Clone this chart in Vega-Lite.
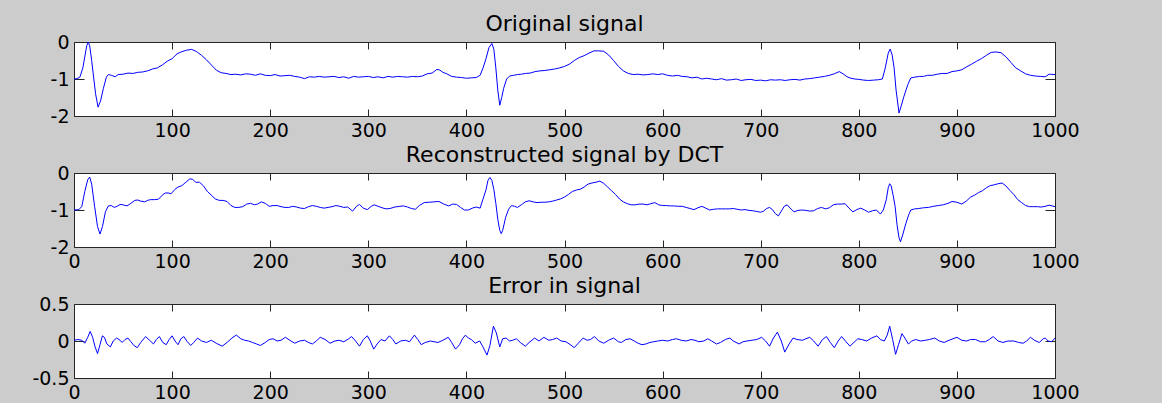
{
  "$schema": "https://vega.github.io/schema/vega-lite/v6.json",
  "background": "#cccccc",
  "padding": {"left": 31, "top": 12, "right": 82, "bottom": 6},
  "bounds": "flush",
  "spacing": 57,
  "config": {
    "view": {"fill": "white", "stroke": "#262626", "strokeWidth": 1},
    "axis": {"domain": false, "grid": false, "labelFont": "DejaVu Sans", "labelFontSize": 19, "labelColor": "#000000", "tickColor": "#262626", "labelFlush": false, "labelOverlap": false, "labelBound": false},
    "title": {"font": "DejaVu Sans", "fontSize": 22, "fontWeight": "normal", "color": "#000000", "anchor": "middle", "baseline": "alphabetic", "offset": -3}
  },
  "datasets": {
    "orig": [
      {"x":0,"y":-1.0},{"x":3,"y":-0.99},{"x":6,"y":-0.95},{"x":9,"y":-0.7},{"x":11,"y":-0.4},{"x":13,"y":-0.1},{"x":14.5,"y":0.0},{"x":16,"y":-0.1},{"x":18,"y":-0.5},{"x":20,"y":-0.95},{"x":22,"y":-1.4},{"x":24.5,"y":-1.76},{"x":27,"y":-1.6},{"x":30,"y":-1.25},{"x":33,"y":-0.95},{"x":35,"y":-0.88},{"x":38,"y":-0.9},{"x":42,"y":-0.94},{"x":45,"y":-0.88},{"x":50,"y":-0.87},{"x":55,"y":-0.84},{"x":60,"y":-0.85},{"x":65,"y":-0.82},{"x":70,"y":-0.81},{"x":75,"y":-0.78},{"x":80,"y":-0.73},{"x":85,"y":-0.7},{"x":90,"y":-0.62},{"x":95,"y":-0.52},{"x":100,"y":-0.45},{"x":105,"y":-0.32},{"x":110,"y":-0.26},{"x":115,"y":-0.22},{"x":120,"y":-0.2},{"x":125,"y":-0.26},{"x":130,"y":-0.36},{"x":135,"y":-0.48},{"x":140,"y":-0.62},{"x":145,"y":-0.76},{"x":150,"y":-0.83},{"x":155,"y":-0.85},{"x":160,"y":-0.88},{"x":165,"y":-0.87},{"x":170,"y":-0.89},{"x":175,"y":-0.86},{"x":180,"y":-0.87},{"x":185,"y":-0.9},{"x":190,"y":-0.86},{"x":195,"y":-0.9},{"x":200,"y":-0.91},{"x":205,"y":-0.88},{"x":210,"y":-0.92},{"x":215,"y":-0.91},{"x":220,"y":-0.9},{"x":225,"y":-0.93},{"x":230,"y":-0.95},{"x":235,"y":-0.99},{"x":240,"y":-0.94},{"x":245,"y":-0.95},{"x":250,"y":-0.93},{"x":255,"y":-0.95},{"x":260,"y":-0.94},{"x":265,"y":-0.93},{"x":270,"y":-0.96},{"x":275,"y":-0.94},{"x":280,"y":-0.98},{"x":285,"y":-0.93},{"x":290,"y":-0.95},{"x":295,"y":-0.94},{"x":300,"y":-0.93},{"x":305,"y":-0.96},{"x":310,"y":-0.94},{"x":315,"y":-0.97},{"x":320,"y":-0.93},{"x":325,"y":-0.95},{"x":330,"y":-0.93},{"x":335,"y":-0.94},{"x":340,"y":-0.95},{"x":345,"y":-0.93},{"x":350,"y":-0.94},{"x":355,"y":-0.92},{"x":360,"y":-0.86},{"x":365,"y":-0.84},{"x":370,"y":-0.74},{"x":373,"y":-0.76},{"x":376,"y":-0.82},{"x":380,"y":-0.86},{"x":385,"y":-0.93},{"x":390,"y":-0.95},{"x":395,"y":-0.96},{"x":400,"y":-0.98},{"x":405,"y":-0.97},{"x":410,"y":-0.96},{"x":414,"y":-0.9},{"x":417,"y":-0.7},{"x":420,"y":-0.45},{"x":423,"y":-0.15},{"x":426,"y":-0.04},{"x":428,"y":-0.2},{"x":430,"y":-0.7},{"x":432,"y":-1.3},{"x":434,"y":-1.71},{"x":436,"y":-1.5},{"x":438,"y":-1.25},{"x":441,"y":-1.0},{"x":444,"y":-0.92},{"x":448,"y":-0.9},{"x":452,"y":-0.88},{"x":456,"y":-0.87},{"x":460,"y":-0.85},{"x":465,"y":-0.84},{"x":470,"y":-0.8},{"x":475,"y":-0.78},{"x":480,"y":-0.77},{"x":485,"y":-0.75},{"x":490,"y":-0.73},{"x":495,"y":-0.7},{"x":500,"y":-0.66},{"x":505,"y":-0.6},{"x":510,"y":-0.5},{"x":515,"y":-0.42},{"x":520,"y":-0.37},{"x":525,"y":-0.3},{"x":530,"y":-0.24},{"x":535,"y":-0.24},{"x":540,"y":-0.25},{"x":545,"y":-0.35},{"x":550,"y":-0.5},{"x":555,"y":-0.66},{"x":560,"y":-0.78},{"x":565,"y":-0.85},{"x":570,"y":-0.88},{"x":575,"y":-0.87},{"x":580,"y":-0.89},{"x":585,"y":-0.88},{"x":590,"y":-0.86},{"x":595,"y":-0.88},{"x":600,"y":-0.86},{"x":605,"y":-0.9},{"x":610,"y":-0.92},{"x":615,"y":-0.9},{"x":620,"y":-0.93},{"x":625,"y":-0.94},{"x":630,"y":-0.97},{"x":635,"y":-0.95},{"x":640,"y":-1.0},{"x":645,"y":-0.98},{"x":650,"y":-1.0},{"x":655,"y":-1.02},{"x":660,"y":-0.99},{"x":665,"y":-1.03},{"x":670,"y":-1.02},{"x":675,"y":-1.0},{"x":680,"y":-1.04},{"x":685,"y":-1.02},{"x":690,"y":-1.01},{"x":695,"y":-1.04},{"x":700,"y":-1.03},{"x":705,"y":-1.05},{"x":710,"y":-1.02},{"x":715,"y":-1.03},{"x":720,"y":-1.02},{"x":725,"y":-1.04},{"x":730,"y":-1.02},{"x":735,"y":-1.01},{"x":740,"y":-1.03},{"x":745,"y":-1.0},{"x":750,"y":-0.99},{"x":755,"y":-0.97},{"x":760,"y":-0.95},{"x":765,"y":-0.93},{"x":770,"y":-0.9},{"x":775,"y":-0.86},{"x":780,"y":-0.8},{"x":784,"y":-0.86},{"x":788,"y":-0.94},{"x":792,"y":-0.98},{"x":796,"y":-1.0},{"x":800,"y":-1.01},{"x":805,"y":-1.03},{"x":810,"y":-1.04},{"x":815,"y":-1.03},{"x":820,"y":-1.02},{"x":824,"y":-1.0},{"x":827,"y":-0.7},{"x":830,"y":-0.3},{"x":832,"y":-0.19},{"x":834,"y":-0.35},{"x":836,"y":-0.7},{"x":838,"y":-1.3},{"x":841,"y":-1.92},{"x":843,"y":-1.75},{"x":846,"y":-1.47},{"x":850,"y":-1.15},{"x":853,"y":-0.97},{"x":857,"y":-0.95},{"x":862,"y":-0.93},{"x":866,"y":-0.93},{"x":870,"y":-0.9},{"x":875,"y":-0.9},{"x":880,"y":-0.87},{"x":885,"y":-0.85},{"x":890,"y":-0.85},{"x":895,"y":-0.8},{"x":900,"y":-0.78},{"x":905,"y":-0.75},{"x":910,"y":-0.67},{"x":915,"y":-0.6},{"x":920,"y":-0.52},{"x":925,"y":-0.45},{"x":930,"y":-0.36},{"x":935,"y":-0.28},{"x":940,"y":-0.27},{"x":945,"y":-0.29},{"x":950,"y":-0.4},{"x":955,"y":-0.55},{"x":960,"y":-0.7},{"x":965,"y":-0.78},{"x":970,"y":-0.86},{"x":975,"y":-0.9},{"x":980,"y":-0.92},{"x":985,"y":-0.93},{"x":990,"y":-0.94},{"x":994,"y":-0.87},{"x":1000,"y":-0.88}
    ],
    "rec": [
      {"x":0,"y":-1.0},{"x":5,"y":-0.99},{"x":8,"y":-0.9},{"x":11,"y":-0.5},{"x":14,"y":-0.18},{"x":16,"y":-0.11},{"x":18,"y":-0.3},{"x":21,"y":-0.9},{"x":24,"y":-1.45},{"x":26.5,"y":-1.65},{"x":29,"y":-1.45},{"x":32,"y":-1.05},{"x":35,"y":-0.89},{"x":38,"y":-0.88},{"x":41,"y":-0.93},{"x":44,"y":-0.9},{"x":47,"y":-0.85},{"x":50,"y":-0.86},{"x":54,"y":-0.89},{"x":58,"y":-0.82},{"x":62,"y":-0.74},{"x":65,"y":-0.73},{"x":68,"y":-0.76},{"x":72,"y":-0.78},{"x":75,"y":-0.74},{"x":78,"y":-0.72},{"x":82,"y":-0.72},{"x":86,"y":-0.71},{"x":90,"y":-0.6},{"x":93,"y":-0.54},{"x":96,"y":-0.54},{"x":99,"y":-0.56},{"x":103,"y":-0.44},{"x":106,"y":-0.38},{"x":110,"y":-0.34},{"x":114,"y":-0.25},{"x":118,"y":-0.16},{"x":121,"y":-0.17},{"x":124,"y":-0.25},{"x":128,"y":-0.25},{"x":132,"y":-0.35},{"x":136,"y":-0.5},{"x":140,"y":-0.6},{"x":144,"y":-0.7},{"x":148,"y":-0.74},{"x":152,"y":-0.74},{"x":156,"y":-0.77},{"x":160,"y":-0.88},{"x":164,"y":-0.93},{"x":168,"y":-0.93},{"x":172,"y":-0.91},{"x":176,"y":-0.84},{"x":180,"y":-0.82},{"x":184,"y":-0.86},{"x":187,"y":-0.84},{"x":191,"y":-0.78},{"x":195,"y":-0.82},{"x":199,"y":-0.9},{"x":203,"y":-0.88},{"x":207,"y":-0.88},{"x":211,"y":-0.91},{"x":215,"y":-0.93},{"x":219,"y":-0.93},{"x":223,"y":-0.9},{"x":227,"y":-0.92},{"x":231,"y":-0.95},{"x":235,"y":-0.96},{"x":239,"y":-0.91},{"x":243,"y":-0.88},{"x":247,"y":-0.9},{"x":251,"y":-0.93},{"x":255,"y":-0.95},{"x":259,"y":-0.93},{"x":263,"y":-0.91},{"x":267,"y":-0.88},{"x":271,"y":-0.9},{"x":275,"y":-0.93},{"x":279,"y":-0.92},{"x":284,"y":-1.03},{"x":288,"y":-0.9},{"x":291,"y":-0.85},{"x":295,"y":-0.95},{"x":299,"y":-0.99},{"x":303,"y":-0.9},{"x":306,"y":-0.86},{"x":310,"y":-0.9},{"x":314,"y":-0.94},{"x":318,"y":-0.97},{"x":322,"y":-0.96},{"x":327,"y":-0.92},{"x":332,"y":-0.9},{"x":336,"y":-0.89},{"x":340,"y":-0.92},{"x":344,"y":-0.96},{"x":348,"y":-0.98},{"x":352,"y":-0.88},{"x":357,"y":-0.8},{"x":362,"y":-0.79},{"x":367,"y":-0.78},{"x":372,"y":-0.77},{"x":377,"y":-0.84},{"x":382,"y":-0.89},{"x":386,"y":-0.84},{"x":390,"y":-0.85},{"x":394,"y":-0.93},{"x":398,"y":-1.0},{"x":402,"y":-1.0},{"x":406,"y":-0.95},{"x":410,"y":-0.92},{"x":414,"y":-0.95},{"x":417,"y":-0.7},{"x":420,"y":-0.45},{"x":422,"y":-0.2},{"x":424,"y":-0.12},{"x":426,"y":-0.2},{"x":428,"y":-0.45},{"x":430,"y":-0.82},{"x":432,"y":-1.25},{"x":434,"y":-1.55},{"x":435.5,"y":-1.64},{"x":437,"y":-1.55},{"x":440,"y":-1.2},{"x":443,"y":-0.98},{"x":446,"y":-0.88},{"x":449,"y":-0.9},{"x":452,"y":-0.93},{"x":456,"y":-0.86},{"x":460,"y":-0.78},{"x":464,"y":-0.75},{"x":468,"y":-0.78},{"x":472,"y":-0.8},{"x":476,"y":-0.79},{"x":480,"y":-0.79},{"x":484,"y":-0.78},{"x":488,"y":-0.76},{"x":492,"y":-0.73},{"x":496,"y":-0.7},{"x":500,"y":-0.65},{"x":504,"y":-0.58},{"x":508,"y":-0.5},{"x":512,"y":-0.46},{"x":516,"y":-0.44},{"x":520,"y":-0.38},{"x":524,"y":-0.3},{"x":528,"y":-0.27},{"x":532,"y":-0.25},{"x":536,"y":-0.22},{"x":540,"y":-0.28},{"x":544,"y":-0.38},{"x":548,"y":-0.48},{"x":552,"y":-0.58},{"x":556,"y":-0.7},{"x":560,"y":-0.78},{"x":564,"y":-0.83},{"x":568,"y":-0.86},{"x":572,"y":-0.86},{"x":576,"y":-0.84},{"x":580,"y":-0.84},{"x":584,"y":-0.86},{"x":588,"y":-0.83},{"x":592,"y":-0.8},{"x":596,"y":-0.86},{"x":600,"y":-0.88},{"x":604,"y":-0.88},{"x":608,"y":-0.89},{"x":612,"y":-0.89},{"x":616,"y":-0.9},{"x":620,"y":-0.9},{"x":624,"y":-0.93},{"x":628,"y":-0.96},{"x":632,"y":-0.99},{"x":636,"y":-0.94},{"x":640,"y":-0.9},{"x":644,"y":-0.95},{"x":648,"y":-1.0},{"x":652,"y":-0.98},{"x":656,"y":-0.97},{"x":660,"y":-0.97},{"x":664,"y":-0.97},{"x":668,"y":-0.97},{"x":672,"y":-0.96},{"x":676,"y":-0.98},{"x":680,"y":-1.0},{"x":684,"y":-0.99},{"x":688,"y":-1.01},{"x":692,"y":-1.02},{"x":696,"y":-1.04},{"x":700,"y":-1.06},{"x":703,"y":-1.03},{"x":706,"y":-0.96},{"x":709,"y":-0.93},{"x":712,"y":-0.99},{"x":715,"y":-1.1},{"x":718,"y":-1.16},{"x":721,"y":-1.03},{"x":724,"y":-0.9},{"x":727,"y":-0.86},{"x":730,"y":-0.95},{"x":734,"y":-1.05},{"x":738,"y":-1.01},{"x":742,"y":-1.0},{"x":746,"y":-1.01},{"x":750,"y":-1.03},{"x":754,"y":-1.02},{"x":758,"y":-0.96},{"x":762,"y":-0.93},{"x":766,"y":-0.97},{"x":770,"y":-0.94},{"x":774,"y":-0.86},{"x":778,"y":-0.84},{"x":782,"y":-0.84},{"x":786,"y":-0.83},{"x":790,"y":-0.95},{"x":794,"y":-1.05},{"x":798,"y":-0.99},{"x":802,"y":-0.95},{"x":806,"y":-1.0},{"x":810,"y":-1.06},{"x":814,"y":-1.02},{"x":818,"y":-1.0},{"x":822,"y":-1.11},{"x":825,"y":-1.0},{"x":828,"y":-0.72},{"x":830,"y":-0.4},{"x":831.5,"y":-0.29},{"x":833,"y":-0.35},{"x":835,"y":-0.6},{"x":837,"y":-0.9},{"x":839,"y":-1.4},{"x":841,"y":-1.75},{"x":842.5,"y":-1.86},{"x":845,"y":-1.65},{"x":848,"y":-1.36},{"x":851,"y":-1.12},{"x":853,"y":-1.0},{"x":857,"y":-0.97},{"x":861,"y":-0.96},{"x":866,"y":-0.94},{"x":871,"y":-0.93},{"x":876,"y":-0.9},{"x":881,"y":-0.88},{"x":886,"y":-0.86},{"x":891,"y":-0.82},{"x":895,"y":-0.77},{"x":900,"y":-0.79},{"x":905,"y":-0.84},{"x":910,"y":-0.75},{"x":914,"y":-0.65},{"x":918,"y":-0.6},{"x":922,"y":-0.53},{"x":926,"y":-0.48},{"x":930,"y":-0.4},{"x":934,"y":-0.34},{"x":938,"y":-0.32},{"x":942,"y":-0.29},{"x":946,"y":-0.27},{"x":950,"y":-0.35},{"x":954,"y":-0.47},{"x":958,"y":-0.58},{"x":962,"y":-0.72},{"x":966,"y":-0.8},{"x":970,"y":-0.88},{"x":974,"y":-0.91},{"x":978,"y":-0.91},{"x":982,"y":-0.91},{"x":986,"y":-0.92},{"x":990,"y":-0.9},{"x":994,"y":-0.87},{"x":997,"y":-0.89},{"x":1000,"y":-0.91}
    ],
    "err": [
      {"x":0,"y":0.01},{"x":4,"y":0.02},{"x":8,"y":0.01},{"x":11,"y":-0.03},{"x":14,"y":0.05},{"x":16.5,"y":0.13},{"x":19,"y":0.05},{"x":21.5,"y":-0.08},{"x":24,"y":-0.17},{"x":26.5,"y":-0.05},{"x":29,"y":0.07},{"x":31,"y":0.05},{"x":33.5,"y":-0.04},{"x":37,"y":-0.08},{"x":40,"y":0.0},{"x":43.5,"y":0.04},{"x":47,"y":0.01},{"x":49,"y":-0.02},{"x":52,"y":0.02},{"x":55,"y":0.04},{"x":58,"y":-0.01},{"x":61,"y":-0.06},{"x":64.5,"y":-0.09},{"x":68,"y":-0.02},{"x":73,"y":0.06},{"x":77,"y":0.01},{"x":81,"y":-0.04},{"x":84,"y":0.02},{"x":87,"y":0.06},{"x":90.5,"y":-0.02},{"x":94,"y":-0.05},{"x":97,"y":0.02},{"x":100,"y":0.07},{"x":103,"y":0.0},{"x":106,"y":-0.05},{"x":109,"y":0.03},{"x":112,"y":0.06},{"x":115.5,"y":-0.01},{"x":119,"y":-0.06},{"x":122,"y":-0.02},{"x":126,"y":0.04},{"x":130,"y":0.0},{"x":135,"y":-0.02},{"x":140,"y":0.01},{"x":145,"y":-0.03},{"x":151,"y":-0.07},{"x":156,"y":-0.02},{"x":161,"y":0.04},{"x":165.5,"y":0.08},{"x":170,"y":0.03},{"x":174,"y":0.01},{"x":178,"y":0.0},{"x":182,"y":-0.02},{"x":186,"y":-0.04},{"x":190,"y":-0.06},{"x":195,"y":-0.02},{"x":199,"y":0.02},{"x":203,"y":0.03},{"x":207,"y":0.0},{"x":211,"y":0.01},{"x":215.5,"y":0.05},{"x":220,"y":0.01},{"x":225,"y":-0.03},{"x":230,"y":0.0},{"x":235,"y":0.01},{"x":239,"y":-0.02},{"x":243,"y":-0.04},{"x":247,"y":0.0},{"x":251,"y":0.05},{"x":256,"y":0.02},{"x":261,"y":-0.03},{"x":266,"y":0.0},{"x":270,"y":0.01},{"x":275,"y":-0.01},{"x":280,"y":0.03},{"x":283,"y":0.06},{"x":287,"y":0.0},{"x":291,"y":-0.07},{"x":295,"y":0.02},{"x":299,"y":0.07},{"x":302,"y":0.0},{"x":305.5,"y":-0.11},{"x":309,"y":-0.04},{"x":313,"y":0.02},{"x":317,"y":0.0},{"x":321.5,"y":0.07},{"x":325,"y":0.02},{"x":328,"y":-0.04},{"x":333,"y":0.0},{"x":338,"y":0.01},{"x":342,"y":-0.01},{"x":347,"y":0.08},{"x":350.5,"y":0.02},{"x":354,"y":-0.05},{"x":358,"y":-0.02},{"x":363.5,"y":0.0},{"x":367,"y":-0.01},{"x":371,"y":-0.02},{"x":376,"y":0.01},{"x":381.5,"y":0.05},{"x":385,"y":-0.02},{"x":389,"y":-0.11},{"x":393,"y":-0.05},{"x":396,"y":0.03},{"x":399,"y":0.08},{"x":402,"y":0.04},{"x":405,"y":0.02},{"x":409,"y":-0.03},{"x":413.5,"y":0.0},{"x":416.5,"y":-0.07},{"x":421,"y":-0.19},{"x":424,"y":-0.06},{"x":427.5,"y":0.2},{"x":430.5,"y":0.11},{"x":434,"y":-0.08},{"x":437,"y":0.03},{"x":440.5,"y":0.04},{"x":444,"y":0.0},{"x":447,"y":0.01},{"x":451,"y":0.03},{"x":455,"y":-0.02},{"x":460,"y":-0.07},{"x":464,"y":-0.02},{"x":469.5,"y":0.04},{"x":474,"y":0.0},{"x":479,"y":0.05},{"x":484,"y":0.01},{"x":488,"y":0.02},{"x":492,"y":0.04},{"x":496.5,"y":0.0},{"x":501.5,"y":-0.01},{"x":506,"y":-0.05},{"x":510,"y":-0.09},{"x":514,"y":-0.03},{"x":519,"y":0.04},{"x":523,"y":0.01},{"x":526.5,"y":0.02},{"x":530.5,"y":0.06},{"x":535,"y":0.0},{"x":540,"y":-0.03},{"x":545,"y":0.01},{"x":550,"y":0.04},{"x":555,"y":-0.01},{"x":558,"y":-0.02},{"x":562.5,"y":0.02},{"x":567,"y":0.03},{"x":571,"y":0.0},{"x":575,"y":-0.03},{"x":579,"y":-0.05},{"x":583,"y":-0.04},{"x":587,"y":-0.02},{"x":591,"y":-0.01},{"x":595,"y":0.0},{"x":600,"y":0.01},{"x":605,"y":0.0},{"x":610,"y":0.02},{"x":614,"y":0.03},{"x":619,"y":0.01},{"x":624,"y":0.0},{"x":629,"y":0.02},{"x":633,"y":0.01},{"x":637,"y":-0.01},{"x":642,"y":0.0},{"x":646,"y":0.03},{"x":650,"y":0.0},{"x":655,"y":-0.04},{"x":659,"y":-0.02},{"x":664,"y":0.02},{"x":668.5,"y":0.04},{"x":672,"y":0.0},{"x":678,"y":-0.04},{"x":682,"y":-0.01},{"x":686,"y":0.0},{"x":691,"y":0.01},{"x":696,"y":0.02},{"x":701,"y":0.05},{"x":705,"y":0.0},{"x":709,"y":-0.07},{"x":713,"y":0.04},{"x":717,"y":0.12},{"x":721,"y":0.0},{"x":724.5,"y":-0.15},{"x":729,"y":-0.04},{"x":733,"y":0.04},{"x":737,"y":0.02},{"x":742.5,"y":0.01},{"x":746,"y":0.03},{"x":750,"y":0.05},{"x":754,"y":0.0},{"x":758.5,"y":-0.07},{"x":763,"y":0.02},{"x":767,"y":0.06},{"x":771,"y":-0.02},{"x":775,"y":-0.09},{"x":779,"y":0.0},{"x":782.5,"y":0.06},{"x":787,"y":-0.01},{"x":791,"y":-0.07},{"x":795,"y":-0.02},{"x":799,"y":0.03},{"x":803,"y":0.02},{"x":808,"y":0.0},{"x":813,"y":0.04},{"x":818.5,"y":0.07},{"x":822,"y":0.02},{"x":826,"y":0.0},{"x":829,"y":0.08},{"x":831.5,"y":0.2},{"x":834.5,"y":0.02},{"x":837.5,"y":-0.18},{"x":840.5,"y":-0.05},{"x":844,"y":0.1},{"x":847,"y":0.04},{"x":850.5,"y":-0.04},{"x":854,"y":0.0},{"x":858,"y":0.02},{"x":863,"y":0.0},{"x":868,"y":0.01},{"x":872,"y":0.02},{"x":877.5,"y":0.04},{"x":882,"y":0.0},{"x":887,"y":-0.02},{"x":892,"y":0.01},{"x":896,"y":0.03},{"x":900,"y":0.05},{"x":905,"y":0.01},{"x":910,"y":0.0},{"x":914,"y":0.02},{"x":919,"y":0.02},{"x":924,"y":-0.01},{"x":929,"y":-0.01},{"x":933,"y":0.02},{"x":937,"y":0.06},{"x":942,"y":0.0},{"x":947,"y":-0.02},{"x":952,"y":0.0},{"x":958,"y":0.0},{"x":963,"y":-0.02},{"x":967.5,"y":-0.03},{"x":971,"y":0.0},{"x":975,"y":0.05},{"x":979,"y":0.01},{"x":984,"y":-0.02},{"x":988,"y":0.03},{"x":990,"y":0.04},{"x":993,"y":0.0},{"x":996.5,"y":-0.01},{"x":1000,"y":0.04}
    ]
  },
  "vconcat": [
    {
      "title": {"text": "Original signal"},
      "width": 981,
      "height": 74,
      "data": {"name": "orig"},
      "layer": [
        {
          "mark": {"type": "line", "color": "#0000ff", "strokeWidth": 1, "clip": true},
          "encoding": {
            "x": {"field": "x", "type": "quantitative", "scale": {"domain": [0, 1000], "nice": false, "zero": false},
                  "axis": {"orient": "bottom", "title": null, "values": [0,100,200,300,400,500,600,700,800,900,1000], "labelExpr": "datum.value == 0 ? '' : toString(datum.value)", "tickSize": -7, "labelPadding": 12}},
            "y": {"field": "y", "type": "quantitative", "scale": {"domain": [-2, 0], "nice": false, "zero": false},
                  "axis": {"orient": "left", "title": null, "values": [-2,-1,0], "labelExpr": "toString(datum.value)", "tickSize": -10, "labelPadding": 15}}
          }
        },
        {
          "mark": {"type": "line", "opacity": 0},
          "encoding": {
            "x": {"field": "x", "type": "quantitative", "axis": {"orient": "top", "title": null, "values": [0,100,200,300,400,500,600,700,800,900,1000], "labels": false, "tickSize": -7}},
            "y": {"field": "y", "type": "quantitative", "axis": {"orient": "right", "title": null, "values": [-2,-1,0], "labels": false, "tickSize": -10}}
          }
        }
      ],
      "resolve": {"axis": {"x": "independent", "y": "independent"}}
    },
    {
      "title": {"text": "Reconstructed signal by DCT"},
      "width": 981,
      "height": 74,
      "data": {"name": "rec"},
      "layer": [
        {
          "mark": {"type": "line", "color": "#0000ff", "strokeWidth": 1, "clip": true},
          "encoding": {
            "x": {"field": "x", "type": "quantitative", "scale": {"domain": [0, 1000], "nice": false, "zero": false},
                  "axis": {"orient": "bottom", "title": null, "values": [0,100,200,300,400,500,600,700,800,900,1000], "labelExpr": "toString(datum.value)", "tickSize": -7, "labelPadding": 12}},
            "y": {"field": "y", "type": "quantitative", "scale": {"domain": [-2, 0], "nice": false, "zero": false},
                  "axis": {"orient": "left", "title": null, "values": [-2,-1,0], "labelExpr": "toString(datum.value)", "tickSize": -10, "labelPadding": 15}}
          }
        },
        {
          "mark": {"type": "line", "opacity": 0},
          "encoding": {
            "x": {"field": "x", "type": "quantitative", "axis": {"orient": "top", "title": null, "values": [0,100,200,300,400,500,600,700,800,900,1000], "labels": false, "tickSize": -7}},
            "y": {"field": "y", "type": "quantitative", "axis": {"orient": "right", "title": null, "values": [-2,-1,0], "labels": false, "tickSize": -10}}
          }
        }
      ],
      "resolve": {"axis": {"x": "independent", "y": "independent"}}
    },
    {
      "title": {"text": "Error in signal"},
      "width": 981,
      "height": 74,
      "data": {"name": "err"},
      "layer": [
        {
          "mark": {"type": "line", "color": "#0000ff", "strokeWidth": 1, "clip": true},
          "encoding": {
            "x": {"field": "x", "type": "quantitative", "scale": {"domain": [0, 1000], "nice": false, "zero": false},
                  "axis": {"orient": "bottom", "title": null, "values": [0,100,200,300,400,500,600,700,800,900,1000], "labelExpr": "toString(datum.value)", "tickSize": -7, "labelPadding": 12}},
            "y": {"field": "y", "type": "quantitative", "scale": {"domain": [-0.5, 0.5], "nice": false, "zero": false},
                  "axis": {"orient": "left", "title": null, "values": [-0.5,0,0.5], "labelExpr": "toString(datum.value)", "tickSize": -10, "labelPadding": 15}}
          }
        },
        {
          "mark": {"type": "line", "opacity": 0},
          "encoding": {
            "x": {"field": "x", "type": "quantitative", "axis": {"orient": "top", "title": null, "values": [0,100,200,300,400,500,600,700,800,900,1000], "labels": false, "tickSize": -7}},
            "y": {"field": "y", "type": "quantitative", "axis": {"orient": "right", "title": null, "values": [-0.5,0,0.5], "labels": false, "tickSize": -10}}
          }
        }
      ],
      "resolve": {"axis": {"x": "independent", "y": "independent"}}
    }
  ]
}
